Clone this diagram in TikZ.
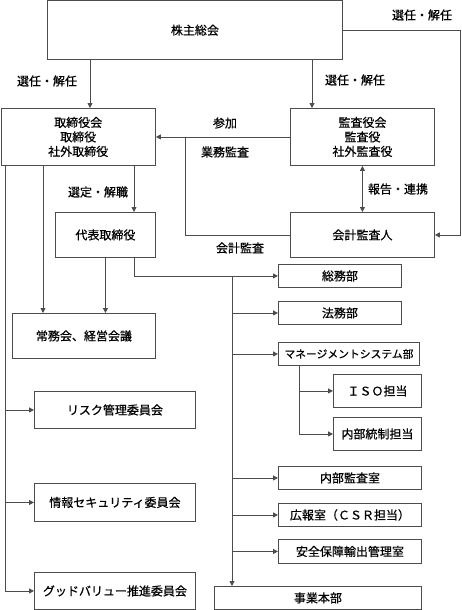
\documentclass[tikz,border=0pt]{standalone}
\usepackage{fontspec}
\newfontfamily\jp[FakeBold=0.6]{Noto Sans CJK JP}
\usetikzlibrary{arrows.meta}

\begin{document}
\begin{tikzpicture}[x=1pt, y=-1pt,
    box/.style={draw=black!70, line width=0.9pt, anchor=north west, inner sep=0pt, align=center, font=\jp\fontsize{12}{14.5}\selectfont},
    lbl/.style={inner sep=0pt, font=\jp\fontsize{12}{14}\selectfont},
    con/.style={draw=black!70, line width=0.9pt},
    arr/.style={con, -{Triangle[length=5pt,width=5pt]}},
    dbl/.style={con, {Triangle[length=5pt,width=5pt]}-{Triangle[length=5pt,width=5pt]}}]
   \useasboundingbox (0,0) rectangle (462,610);
   \coordinate (xl) at (5,0);
   \coordinate (xj) at (43,0);
   \coordinate (xk) at (90,0);
   \coordinate (xd) at (134,0);
   \coordinate (xb) at (185,0);
   \coordinate (xm) at (232,0);
   \coordinate (xs) at (299,0);
   \coordinate (xa) at (312,0);
   \node[box, minimum width=295pt, minimum height=58.5pt] (kabu) at (47,0.5) {株主総会};
   \node[box, minimum width=154.5pt, minimum height=57pt] (tori) at (0.5,108) {取締役会\\取締役\\社外取締役};
   \node[box, minimum width=144pt, minimum height=57pt] (kansa) at (290,108) {監査役会\\監査役\\社外監査役};
   \node[box, minimum width=100pt, minimum height=45pt] (daihyo) at (55,212) {代表取締役};
   \node[box, minimum width=144pt, minimum height=45pt] (kaikei) at (290,212) {会計監査人};
   \node[box, minimum width=143pt, minimum height=45pt] (jomu) at (12,313) {常務会、経営会議};
   \node[box, minimum width=161pt, minimum height=37pt] (risk) at (34,391) {リスク管理委員会};
   \node[box, minimum width=161pt, minimum height=38pt] (joho) at (34,483) {情報セキュリティ委員会};
   \node[box, minimum width=161pt, minimum height=37pt] (good) at (34,572) {グッドバリュー推進委員会};
   \node[box, minimum width=123pt, minimum height=23pt] (somu) at (278,264) {総務部};
   \node[box, minimum width=123pt, minimum height=23pt] (homu) at (278,301) {法務部};
   \node[box, minimum width=141pt, minimum height=23pt, font=\jp\fontsize{10.8}{13}\selectfont] (ms) at (278,342) {マネージメントシステム部};
   \node[box, minimum width=88pt, minimum height=33pt] (iso) at (333,374) {ＩＳＯ担当};
   \node[box, minimum width=88pt, minimum height=33pt] (naibu) at (333,417) {内部統制担当};
   \node[box, minimum width=143pt, minimum height=23pt] (kansashitsu) at (278,466) {内部監査室};
   \node[box, minimum width=143pt, minimum height=23pt] (koho) at (278,503) {広報室（ＣＳＲ担当）};
   \node[box, minimum width=143pt, minimum height=24pt] (anzen) at (278,539) {安全保障輸出管理室};
   \node[box, minimum width=207pt, minimum height=23pt] (jigyo) at (214,586) {事業本部};
   \node[lbl] (sen1) at (422,15) {選任・解任};
   \node[lbl] (sen2) at (47,81) {選任・解任};
   \node[lbl] (sen3) at (355,80) {選任・解任};
   \node[lbl] (sanka) at (225,123) {参加};
   \node[lbl] (gyomu) at (225,152) {業務監査};
   \node[lbl] (kaikeik) at (240,248) {会計監査};
   \node[lbl] (hokoku) at (398,189) {報告・連携};
   \node[lbl] (sentei) at (98,192) {選定・解職};
   \draw[arr] (kabu.south -| xk) -- (tori.north -| xk);
   \draw[arr] (kabu.south -| xa) -- (kansa.north -| xa);
   \draw[arr] (kabu.east) -| ([xshift=26pt]kaikei.east) -- (kaikei.east);
   \draw[arr] (kansa.west) -- (tori.east);
   \draw[con] (tori.east -| xb) |- (kaikei.west);
   \draw[dbl] (kansa.south) -- (kaikei.north);
   \draw[arr] (tori.south -| xd) -- (daihyo.north -| xd);
   \draw[arr] (tori.south -| xj) -- (jomu.north -| xj);
   \draw[arr] (daihyo.south) -- (jomu.north -| daihyo.south);
   \draw[arr] (tori.south -| xl) |- (good.west);
   \draw[arr] (risk.west -| xl) -- (risk.west);
   \draw[arr] (joho.west -| xl) -- (joho.west);
   \draw[arr] (daihyo.south -| xd) |- (somu.west);
   \draw[arr] (somu.west -| xm) -- (jigyo.north -| xm);
   \draw[arr] (homu.west -| xm) -- (homu.west);
   \draw[arr] (ms.west -| xm) -- (ms.west);
   \draw[arr] (kansashitsu.west -| xm) -- (kansashitsu.west);
   \draw[arr] (koho.west -| xm) -- (koho.west);
   \draw[arr] (anzen.west -| xm) -- (anzen.west);
   \draw[arr] (ms.south -| xs) |- (naibu.west);
   \draw[arr] (iso.west -| xs) -- (iso.west);
\end{tikzpicture}
\end{document}
